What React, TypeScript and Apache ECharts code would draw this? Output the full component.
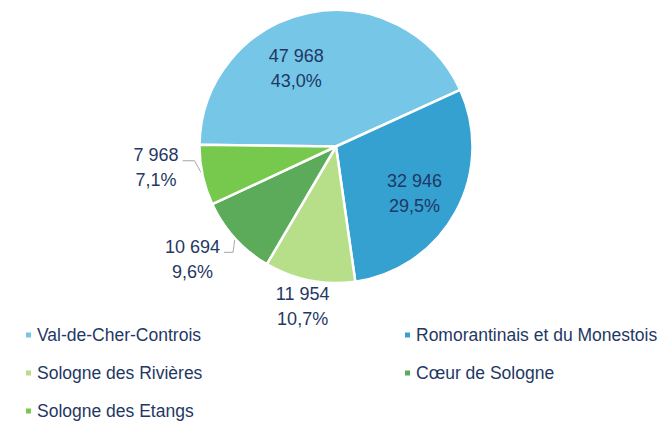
import React, { useEffect, useRef } from "react";
import * as echarts from "echarts";

const categories = [
  "Val-de-Cher-Controis",
  "Romorantinais et du Monestois",
  "Sologne des Rivières",
  "Cœur de Sologne",
  "Sologne des Etangs",
];
const values = [47968, 32946, 11954, 10694, 7968];
const colors = ["#75C6E7", "#35A1D0", "#B7DF89", "#5BAB5B", "#76C94C"];

const legendLeftColumn = [categories[0], categories[2], categories[4]];
const legendRightColumn = [categories[1], categories[3]];

// label nudges relative to ECharts' own placement [dx, dy] (labels without leader)
const labelNudge: number[][] = [
  [-25, -8],
  [16, 12.5],
  [10, 16],
  [0, 0],
  [0, 0],
];
// leader shape for outside labels: [elbow dx, elbow dy, horizontal length]
const leaderShape: (number[] | null)[] = [null, null, null, [-2, 14, 9], [-8, -14.5, 12]];
const insideLabels = [true, true, false, false, false];
const showLeader = [false, false, false, true, true];

const FONT = "'Liberation Sans', Arial, sans-serif";
const TEXT = "#1F3864";

const total = values.reduce((a, b) => a + b, 0);
const fmtNum = (v: number) => String(v).replace(/\B(?=(\d{3})+(?!\d))/g, " ");
const fmtPct = (v: number) => ((v / total) * 100).toFixed(1).replace(".", ",") + "%";

export default function App() {
  const ref = useRef<HTMLDivElement>(null);
  useEffect(() => {
    if (!ref.current) return;
    const chart = echarts.init(ref.current, null, { renderer: "svg" });
    const legendBase = {
      orient: "vertical",
      top: 326,
      padding: 0,
      itemWidth: 7,
      itemHeight: 7,
      icon: "rect",
      itemGap: 20,
      selectedMode: false,
      textStyle: { fontSize: 17.5, lineHeight: 18, color: TEXT, fontFamily: FONT },
    };
    chart.setOption({
      animation: false,
      backgroundColor: "#ffffff",
      color: colors,
      legend: [
        { ...legendBase, left: 24, data: legendLeftColumn },
        { ...legendBase, left: 403, data: legendRightColumn },
      ],
      series: [
        {
          type: "pie",
          center: [336, 146.5],
          radius: 136.5,
          startAngle: 179.3,
          clockwise: true,
          avoidLabelOverlap: false,
          itemStyle: { borderColor: "#ffffff", borderWidth: 2.5 },
          label: {
            show: true,
            position: "outside",
            color: TEXT,
            fontFamily: FONT,
            fontSize: 18,
            lineHeight: 25,
            formatter: (p: any) => fmtNum(p.value) + "\n" + fmtPct(p.value),
          },
          labelLine: {
            show: true,
            length: 10,
            length2: 10,
            smooth: false,
            lineStyle: { color: "#A6A6A6", width: 1 },
          },
          labelLayout: (p: any) => {
            const i = p.dataIndex;
            const s = leaderShape[i];
            if (s && p.labelLinePoints && p.labelLinePoints.length) {
              const e = p.labelLinePoints[0];
              const elbow = [e[0] + s[0], e[1] + s[1]];
              const end = [elbow[0] - s[2], elbow[1]];
              const w = p.labelRect.width;
              return {
                x: end[0] - 4 - w / 2,
                y: end[1] + 7,
                align: "center",
                verticalAlign: "middle",
                labelLinePoints: [e, elbow, end],
              };
            }
            const n = labelNudge[i];
            return { dx: n[0], dy: n[1], align: "center" };
          },
          data: categories.map((name, i) => ({
            name,
            value: values[i],
            label: { position: insideLabels[i] ? "inside" : "outside" },
            labelLine: { show: showLeader[i] },
          })),
        },
      ],
    });
    return () => chart.dispose();
  }, []);
  return (
    <div
      ref={ref}
      style={{ position: "absolute", left: 0, top: 0, width: 664, height: 421 }}
    />
  );
}
